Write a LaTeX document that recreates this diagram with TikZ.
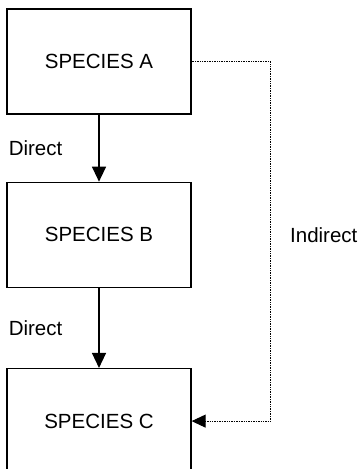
\documentclass[tikz,border=0pt]{standalone}
\usepackage{fontspec}
\setmainfont{Liberation Sans}
\usetikzlibrary{arrows.meta, positioning}

\tikzset{
    species/.style={draw, line width=1.3pt, minimum width=184pt, minimum height=105pt},
    direct/.style={-{Triangle[length=15pt, width=14pt]}, line width=1.3pt},
    indirect/.style={-{Triangle[length=14pt, width=13pt]}, line width=0.9pt,
                     dash pattern=on 1pt off 0.7pt},
    lbl/.style={inner sep=2pt}
}

\begin{document}
\begin{tikzpicture}[font=\fontsize{20.5}{24}\selectfont]
    \useasboundingbox (0,0) rectangle (359pt,-469pt);

    % Boxes
    \node (spA) [species] at (99pt,-61.5pt) {SPECIES A};
    \node (spB) [species, below=67pt of spA] {SPECIES B};
    \node (spC) [species, below=80pt of spB] {SPECIES C};

    % Direct links
    \draw[direct] (spA) -- node[lbl, midway, left=34pt] (dirAB) {Direct} (spB);
    \draw[direct] (spB) -- node[lbl, midway, left=34pt] (dirBC) {Direct} (spC);

    % Indirect link
    \draw[indirect] (spA.east) -- ++(79pt,0) |- (spC.east);
    \node (ind) [lbl, anchor=west] at (288pt,-235pt) {Indirect};
\end{tikzpicture}
\end{document}
